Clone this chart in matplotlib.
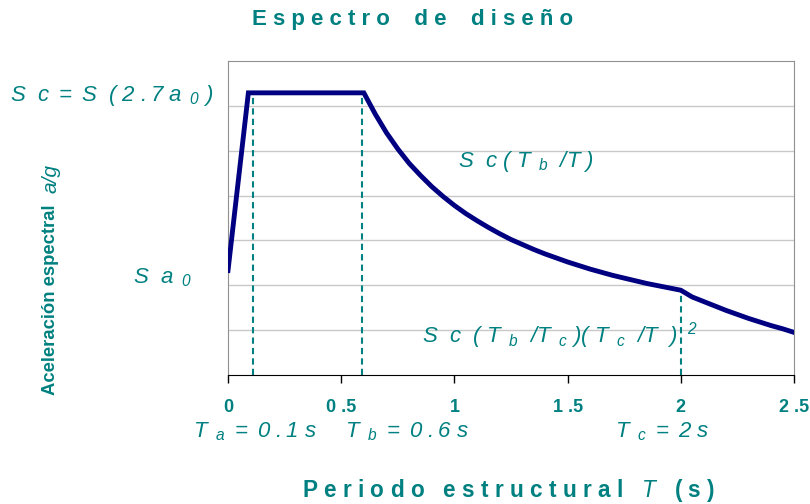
import matplotlib
matplotlib.use("Agg")
import matplotlib.pyplot as plt

# Design spectrum, values (a/g)
periods = [0.0, 0.09, 0.6, 0.65, 0.7, 0.75, 0.8, 0.85, 0.9, 0.95, 1.0,
           1.05, 1.1, 1.15, 1.2, 1.25, 1.3, 1.35, 1.4, 1.45, 1.5,
           1.55, 1.6, 1.65, 1.7, 1.75, 1.8, 1.85, 1.9, 1.95, 2.0,
           2.05, 2.1, 2.15, 2.2, 2.25, 2.3, 2.35, 2.4, 2.45, 2.5]
accel = [2.33, 6.29, 6.29, 5.82, 5.4, 5.04, 4.72, 4.45, 4.2, 3.98, 3.78,
         3.6, 3.44, 3.29, 3.15, 3.02, 2.91, 2.8, 2.7, 2.61, 2.52,
         2.44, 2.36, 2.29, 2.22, 2.16, 2.1, 2.04, 1.99, 1.94, 1.89,
         1.74, 1.64, 1.54, 1.44, 1.35, 1.26, 1.18, 1.1, 1.03, 0.95]

# dashed markers at Ta, Tb, Tc, up to the curve
corner_periods = [0.11, 0.59, 2.0]
corner_accel = [6.29, 6.29, 1.89]

tick_values = [0, 0.5, 1, 1.5, 2, 2.5]
tick_labels = ["0", "0 .5", "1", "1 .5", "2", "2 .5"]
grid_levels = [1, 2, 3, 4, 5, 6]

TEAL = "#008080"
NAVY = "#000080"

plt.rcParams["font.family"] = ["Liberation Sans", "DejaVu Sans"]
plt.rcParams["mathtext.fontset"] = "custom"
plt.rcParams["mathtext.rm"] = "Liberation Sans:italic"
plt.rcParams["mathtext.it"] = "Liberation Sans:italic"
plt.rcParams["mathtext.default"] = "it"

W, H = 810, 504
fig = plt.figure(figsize=(W / 100, H / 100), dpi=100)
ax = fig.add_axes([228 / W, 1 - 375 / H, (794 - 228) / W, (375 - 61) / H])

for level in grid_levels:
    ax.axhline(level, color="#c8c8c8", lw=1, zorder=0)

for t, a in zip(corner_periods, corner_accel):
    ax.plot([t, t], [0, a], color=TEAL, lw=1.5, ls=(0, (3, 2)), zorder=2)

ax.plot(periods, accel, color=NAVY, lw=3.5, solid_joinstyle="miter", zorder=3)

ax.set_xlim(0, 2.5)
ax.set_ylim(0, 7)
ax.set_xticks(tick_values)
ax.set_xticklabels(tick_labels, color=TEAL, fontweight="bold", fontsize=13)
ax.tick_params(axis="x", direction="out", length=6, width=1, pad=11, color="black")
ax.set_yticks([])
for side in ("left", "top", "right"):
    ax.spines[side].set_color("#909090")
ax.spines["bottom"].set_color("black")


def put(x, y, s, **kw):
    kw.setdefault("color", TEAL)
    fig.text(x / W, 1 - y / H, s, **kw)


put(252, 20, "E s p e c t r o    d e    d i s e ñ o", ha="left", va="center",
    fontsize=16, fontweight="bold")

put(302, 490, "P e r i o d o   e s t r u c t u r a l   $T$   ( s )", ha="left",
    va="center", fontsize=16.3, fontweight="bold")

put(51, 395, "Aceleración espectral", rotation=90, ha="left", va="center",
    fontsize=13.3, fontweight="bold", rotation_mode="anchor")
put(51, 193, "a/g", rotation=90, ha="left", va="center", fontsize=15,
    style="italic", rotation_mode="anchor")

lab = dict(fontsize=16, va="center")
put(10, 96, r"$S\ \ c\ =\ S\ \ (\ 2\ .7\ a_{\ \ 0}\ )$", ha="left", **lab)
put(133, 278, r"$S\ \ a_{\ \ 0}$", ha="left", **lab)
put(458, 162, r"$S\ \ c\ (\ T_{\ \ b}\ \ /T\ )$", ha="left", **lab)
put(422, 336,
    r"$S\ \ c\ \ (\ T_{\ \ b}\ \ /T_{\ \ c}\ )(\ T_{\ \ c}\ \ /T\ \ )\ ^{\ 2}$",
    ha="left", **lab)
put(193, 432, r"$T_{\ \ a}\ =\ 0\ .1\ s$", ha="left", **lab)
put(345, 432, r"$T_{\ \ b}\ =\ 0\ .6\ s$", ha="left", **lab)
put(615, 432, r"$T_{\ \ c}\ =\ 2\ s$", ha="left", **lab)

fig.savefig("out.png", dpi=100)
